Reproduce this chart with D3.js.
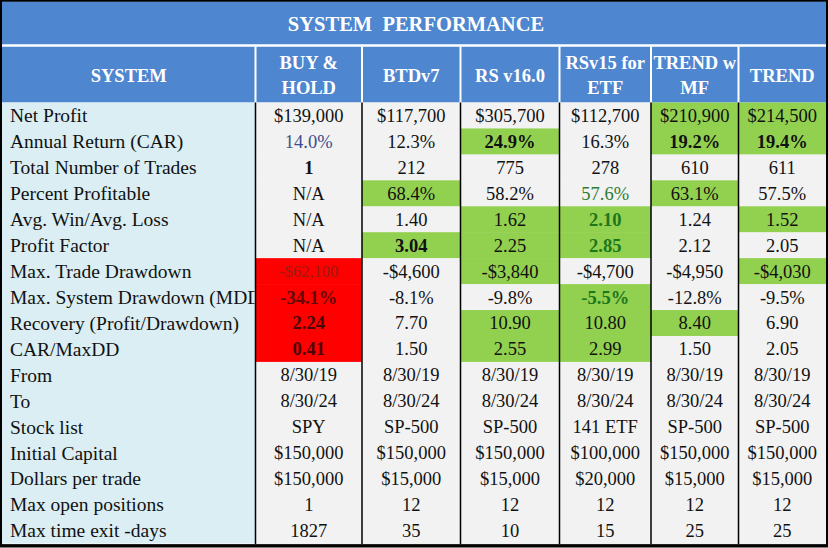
<!DOCTYPE html>
<html>
<head>
<meta charset="utf-8">
<script src="https://cdn.jsdelivr.net/npm/d3@7"></script>
<style>
  html, body { margin: 0; padding: 0; background: #ffffff; }
  svg { display: block; }
  text { white-space: pre; }
</style>
</head>
<body>
<div id="chart"></div>
<script>
// ---------- DATA ----------
const title = "SYSTEM  PERFORMANCE";
const systems = ["BUY & HOLD", "BTDv7", "RS v16.0", "RSv15 for ETF", "TREND w MF", "TREND"];
const headerLines = [["SYSTEM"], ["BUY &", "HOLD"], ["BTDv7"], ["RS v16.0"], ["RSv15 for", "ETF"], ["TREND w", "MF"], ["TREND"]];
const metrics = [
  "Net Profit", "Annual Return (CAR)", "Total Number of Trades", "Percent Profitable",
  "Avg. Win/Avg. Loss", "Profit Factor", "Max. Trade Drawdown", "Max. System Drawdown (MDD)",
  "Recovery (Profit/Drawdown)", "CAR/MaxDD", "From", "To", "Stock list", "Initial Capital",
  "Dollars per trade", "Max open positions", "Max time exit -days"
];
const buyHold = ["$139,000","14.0%","1","N/A","N/A","N/A","-$62,100","-34.1%","2.24","0.41","8/30/19","8/30/24","SPY","$150,000","$150,000","1","1827"];
const btdv7   = ["$117,700","12.3%","212","68.4%","1.40","3.04","-$4,600","-8.1%","7.70","1.50","8/30/19","8/30/24","SP-500","$150,000","$15,000","12","35"];
const rsV16   = ["$305,700","24.9%","775","58.2%","1.62","2.25","-$3,840","-9.8%","10.90","2.55","8/30/19","8/30/24","SP-500","$150,000","$15,000","12","10"];
const rsV15   = ["$112,700","16.3%","278","57.6%","2.10","2.85","-$4,700","-5.5%","10.80","2.99","8/30/19","8/30/24","141 ETF","$100,000","$20,000","12","15"];
const trendMf = ["$210,900","19.2%","610","63.1%","1.24","2.12","-$4,950","-12.8%","8.40","1.50","8/30/19","8/30/24","SP-500","$150,000","$15,000","12","25"];
const trend   = ["$214,500","19.4%","611","57.5%","1.52","2.05","-$4,030","-9.5%","6.90","2.05","8/30/19","8/30/24","SP-500","$150,000","$15,000","12","25"];
const seriesValues = [buyHold, btdv7, rsV16, rsV15, trendMf, trend];

// highlighted cells: [systemIndex, metricIndex]
const greenCells = [[1,3],[1,5],[2,1],[2,4],[2,5],[2,6],[2,8],[2,9],[3,4],[3,5],[3,7],[3,8],[3,9],[4,0],[4,1],[4,3],[4,8],[5,0],[5,1],[5,4],[5,6]];
const redCells   = [[0,6],[0,7],[0,8],[0,9]];
const boldCells  = [[0,2],[0,7],[0,8],[0,9],[1,5],[2,1],[3,4],[3,5],[3,7],[4,1],[5,1]];

// ---------- STYLE / LAYOUT ----------
const W = 828, H = 548;
const colWidths = [253.5, 106.5, 98.5, 99, 91.5, 87.5, 87.5];
const x0 = 2;
const blue = "#4e86cf", lightBlue = "#daeef3", gray = "#f2f2f2", green = "#92d050", red = "#ff0000";
const textColors = {
  "0,1": "#3d4e8c", "0,6": "#9c1c12", "0,7": "#650808", "0,8": "#4a0505", "0,9": "#4a0505",
  "3,3": "#2e7d32", "3,4": "#1c761c", "3,5": "#1c761c", "3,7": "#1c761c"
};
const textSizes = { "0,6": 16.5 };

const colEdges = [x0, ...d3.cumsum(colWidths).map(v => v + x0)];
const colX = d3.scaleOrdinal().domain(d3.range(7)).range(colEdges.slice(0, 7));
const colW = d3.scaleOrdinal().domain(d3.range(7)).range(colWidths);
const y = d3.scaleBand().domain(d3.range(metrics.length)).range([102.5, 543.5]).padding(0);

const svg = d3.select("#chart").append("svg").attr("width", W).attr("height", H);
svg.append("rect").attr("width", W).attr("height", H).attr("fill", "#fff");

// title band
svg.append("rect").attr("x", 2).attr("y", 1.5).attr("width", 824).attr("height", 43).attr("fill", blue);
svg.append("text").attr("x", 416).attr("y", 24).attr("dy", "0.35em")
  .attr("text-anchor", "middle").attr("font-family", "Liberation Serif, serif")
  .attr("font-weight", "bold").attr("font-size", 20.5).attr("fill", "#fff").text(title);

// header band
svg.append("rect").attr("x", 2).attr("y", 46.5).attr("width", 824).attr("height", 56).attr("fill", blue);
const hdr = svg.append("g");
headerLines.forEach((lines, i) => {
  const cx = colX(i) + colW(i) / 2;
  const cy = 75.5;
  lines.forEach((ln, k) => {
    hdr.append("text").attr("x", cx).attr("y", cy + (k - (lines.length - 1) / 2) * 25)
      .attr("dy", "0.35em").attr("text-anchor", "middle")
      .attr("font-family", "Liberation Serif, serif").attr("font-weight", "bold")
      .attr("font-size", 18.5).attr("fill", "#fff").text(ln);
  });
});
// white header separators
hdr.selectAll("line.hsep").data(colEdges.slice(1, 7)).join("line")
  .attr("x1", d => d).attr("x2", d => d).attr("y1", 46.5).attr("y2", 102.5)
  .attr("stroke", "#fff").attr("stroke-width", 2);
// white line between title and header
svg.append("line").attr("x1", 2).attr("x2", 826).attr("y1", 45.5).attr("y2", 45.5)
  .attr("stroke", "#fff").attr("stroke-width", 2);

// metric label column
svg.append("rect").attr("x", x0).attr("y", y(0)).attr("width", colWidths[0])
  .attr("height", y.range()[1] - y(0)).attr("fill", lightBlue);
svg.append("clipPath").attr("id", "labclip").append("rect")
  .attr("x", x0).attr("y", y(0)).attr("width", colWidths[0] - 1).attr("height", 460);
svg.append("g").attr("clip-path", "url(#labclip)")
  .selectAll("text").data(metrics).join("text")
  .attr("x", 10).attr("y", (d, i) => y(i) + y.bandwidth() / 2).attr("dy", "0.35em")
  .attr("font-family", "Liberation Serif, serif").attr("font-size", 19.5)
  .attr("fill", "#111").text(d => d);

// data cells
const cells = [];
seriesValues.forEach((vals, s) => vals.forEach((v, r) => cells.push({ s, r, v })));
const key = (s, r) => s + "," + r;
const greenSet = new Set(greenCells.map(d => key(d[0], d[1])));
const redSet = new Set(redCells.map(d => key(d[0], d[1])));
const boldSet = new Set(boldCells.map(d => key(d[0], d[1])));

const cg = svg.append("g");
cg.selectAll("rect").data(cells).join("rect")
  .attr("x", d => colX(d.s + 1)).attr("y", d => y(d.r))
  .attr("width", d => colW(d.s + 1)).attr("height", y.bandwidth() + 0.5)
  .attr("fill", d => redSet.has(key(d.s, d.r)) ? red : greenSet.has(key(d.s, d.r)) ? green : gray);
cg.selectAll("text").data(cells).join("text")
  .attr("x", d => colX(d.s + 1) + colW(d.s + 1) / 2)
  .attr("y", d => y(d.r) + y.bandwidth() / 2).attr("dy", "0.35em")
  .attr("text-anchor", "middle").attr("font-family", "Liberation Serif, serif")
  .attr("font-size", d => textSizes[key(d.s, d.r)] || 18.5)
  .attr("font-weight", d => boldSet.has(key(d.s, d.r)) ? "bold" : "normal")
  .attr("fill", d => textColors[key(d.s, d.r)] || "#111")
  .text(d => d.v);

// black vertical separators in data area
svg.selectAll("line.vsep").data(colEdges.slice(1, 7)).join("line")
  .attr("x1", d => d).attr("x2", d => d).attr("y1", 102.5).attr("y2", 544)
  .attr("stroke", "#000").attr("stroke-width", 1.5);

// outer border
svg.append("rect").attr("x", 1).attr("y", 0.75).attr("width", 826).attr("height", 544.5)
  .attr("fill", "none").attr("stroke", "#000").attr("stroke-width", 2);
svg.append("line").attr("x1", 0).attr("x2", 828).attr("y1", 546).attr("y2", 546)
  .attr("stroke", "#000").attr("stroke-width", 3);
</script>
</body>
</html>
